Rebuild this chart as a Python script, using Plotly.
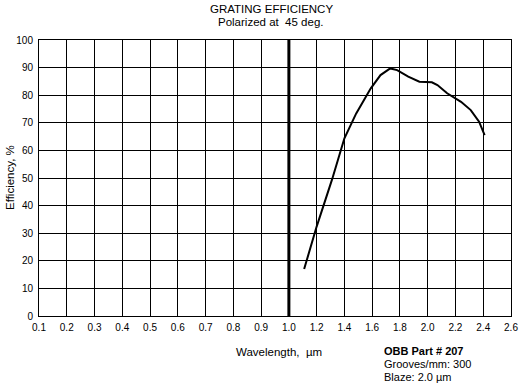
import numpy as np
import plotly.graph_objects as go

# Tick labels of the (piecewise) wavelength axis
tick_values = [0.1, 0.2, 0.3, 0.4, 0.5, 0.6, 0.7, 0.8, 0.9, 1.0,
               1.2, 1.4, 1.6, 1.8, 2.0, 2.2, 2.4, 2.6]
tick_labels = ["0.1", "0.2", "0.3", "0.4", "0.5", "0.6", "0.7", "0.8", "0.9", "1.0",
               "1.2", "1.4", "1.6", "1.8", "2.0", "2.2", "2.4", "2.6"]

# Efficiency curve
wavelength = [1.11, 1.20, 1.31, 1.40, 1.485, 1.59, 1.66, 1.73, 1.78, 1.86,
              1.94, 2.03, 2.07, 2.14, 2.24, 2.31, 2.37, 2.41]
efficiency = [17.0, 32.4, 49.3, 64.4, 73.4, 82.5, 87.3, 89.7, 89.1, 86.7,
              84.9, 84.7, 83.7, 80.7, 77.6, 74.6, 70.4, 65.5]

y_ticks = list(range(0, 101, 10))
marker_wavelength = [1.0]

idx = np.arange(len(tick_values))
def to_axis(w):
    return np.interp(w, tick_values, idx)

W, H = 525, 384
L, R, T, B = 39, 511, 40, 316
def px(x):
    return (x - L) / (R - L)
def py(y):
    return (B - y) / (B - T)

FONT = "Liberation Sans, Arial, sans-serif"

fig = go.Figure()
fig.add_trace(go.Scatter(x=to_axis(np.array(wavelength)), y=efficiency, mode="lines",
                         line=dict(color="black", width=2), showlegend=False,
                         hoverinfo="skip"))

for w in marker_wavelength:
    fig.add_shape(type="line", xref="x", yref="paper",
                  x0=to_axis(w), x1=to_axis(w), y0=0, y1=1,
                  line=dict(color="black", width=3))

annots = [
    dict(text="GRATING EFFICIENCY", x=px(271), y=py(9)),
    dict(text="Polarized at  45 deg.", x=px(271), y=py(22)),
    dict(text="Wavelength,  µm", x=px(279), y=py(352)),
]
for a in annots:
    fig.add_annotation(xref="paper", yref="paper", showarrow=False,
                       xanchor="center", yanchor="middle",
                       font=dict(family=FONT, size=11.5, color="black"), **a)

fig.add_annotation(xref="paper", yref="paper", showarrow=False,
                   text="Efficiency, %", textangle=-90,
                   x=px(10), y=py(178), xanchor="center", yanchor="middle",
                   font=dict(family=FONT, size=11.5, color="black"))

right_lines = ["<b>OBB Part # 207</b>", "Grooves/mm: 300", "Blaze: 2.0 µm"]
for i, t in enumerate(right_lines):
    fig.add_annotation(xref="paper", yref="paper", showarrow=False,
                       text=t, x=px(382), y=py(351 + 13 * i),
                       xanchor="left", yanchor="middle",
                       font=dict(family=FONT, size=11, color="black"))

fig.update_layout(
    width=W, height=H,
    margin=dict(l=L, r=W - R, t=T, b=H - B, autoexpand=False),
    paper_bgcolor="white", plot_bgcolor="white",
    font=dict(family=FONT, size=10, color="black"),
    showlegend=False,
)
fig.update_xaxes(range=[0, len(tick_values) - 1], tickvals=list(idx), ticktext=tick_labels,
                 showgrid=True, gridcolor="black", gridwidth=1,
                 showline=True, linecolor="black", linewidth=1, mirror=True,
                 ticks="", zeroline=False, tickfont=dict(size=10), ticklabelstandoff=2)
fig.update_yaxes(range=[0, 100], tickvals=y_ticks,
                 showgrid=True, gridcolor="black", gridwidth=1,
                 showline=True, linecolor="black", linewidth=1, mirror=True,
                 ticks="", zeroline=False, tickfont=dict(size=10), ticklabelstandoff=3)

fig.write_html("out.html", config={"displayModeBar": False},
               post_script="document.body.style.margin='0';document.body.style.overflow='hidden';")
